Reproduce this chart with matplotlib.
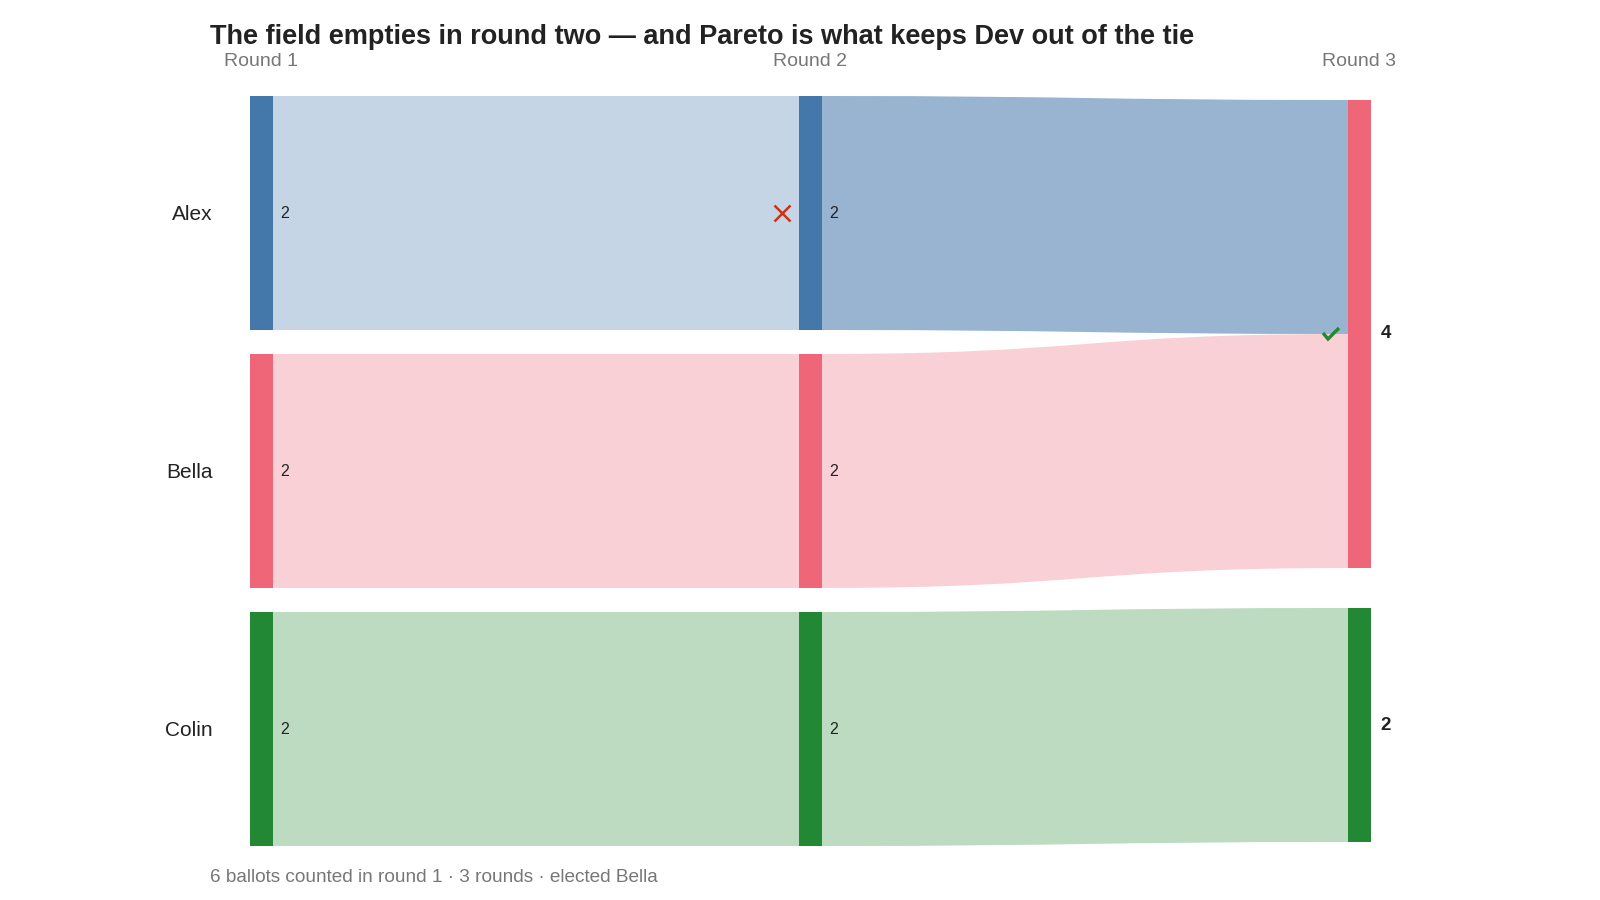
import matplotlib.pyplot as plt
from matplotlib.path import Path
from matplotlib.patches import PathPatch, Rectangle

plt.rcParams['font.family'] = ['Liberation Sans', 'DejaVu Sans']

title = "The field empties in round two \u2014 and Pareto is what keeps Dev out of the tie"
footer = "6 ballots counted in round 1 \u00b7 3 rounds \u00b7 elected Bella"
rounds = ['Round 1', 'Round 2', 'Round 3']
candidates = ['Alex', 'Bella', 'Colin']
colors = ['#4477AA', '#EE6677', '#228833']
# ballots held by each candidate in each round
votes = [
    [2, 2, 2],
    [2, 2, 2],
    [0, 4, 2],
]
# ballots moving between consecutive rounds: (from round, source, target, ballots)
flows = [
    (0, 'Alex', 'Alex', 2),
    (0, 'Bella', 'Bella', 2),
    (0, 'Colin', 'Colin', 2),
    (1, 'Alex', 'Bella', 2),
    (1, 'Bella', 'Bella', 2),
    (1, 'Colin', 'Colin', 2),
]
eliminated = (1, 'Alex')
elected = (2, 'Bella')

# layout (pixels)
col_x = [250, 799, 1348]
node_w = 22.5
unit = 117
center_y = 471
gaps = [24, 24, 40]

fig = plt.figure(figsize=(16, 9), dpi=100)
ax = fig.add_axes([0, 0, 1, 1])
ax.set_xlim(0, 1600)
ax.set_ylim(900, 0)
ax.axis('off')

# node positions
nodes = {}
for r, counts in enumerate(votes):
    live = [(c, v) for c, v in zip(candidates, counts) if v > 0]
    total = sum(v for _, v in live) * unit + gaps[r] * (len(live) - 1)
    y = center_y - total / 2
    for c, v in live:
        nodes[(r, c)] = [y, y + v * unit]
        y += v * unit + gaps[r]

# links
out_off = {k: v[0] for k, v in nodes.items()}
in_off = {k: v[0] for k, v in nodes.items()}
for r, src, dst, n in flows:
    h = n * unit
    x0 = col_x[r] + node_w
    x1 = col_x[r + 1]
    y0 = out_off[(r, src)]
    y1 = in_off[(r + 1, dst)]
    out_off[(r, src)] += h
    in_off[(r + 1, dst)] += h
    xm = (x0 + x1) / 2
    verts = [(x0, y0), (xm, y0), (xm, y1), (x1, y1),
             (x1, y1 + h), (xm, y1 + h), (xm, y0 + h), (x0, y0 + h), (x0, y0)]
    codes = [Path.MOVETO, Path.CURVE4, Path.CURVE4, Path.CURVE4,
             Path.LINETO, Path.CURVE4, Path.CURVE4, Path.CURVE4, Path.CLOSEPOLY]
    alpha = 0.55 if src != dst else 0.3
    ax.add_patch(PathPatch(Path(verts, codes), facecolor=colors[candidates.index(src)],
                           edgecolor='none', alpha=alpha, zorder=1))

# nodes and labels
for (r, c), (top, bot) in nodes.items():
    col = colors[candidates.index(c)]
    ax.add_patch(Rectangle((col_x[r], top), node_w, bot - top, facecolor=col,
                           edgecolor='none', zorder=2))
    mid = (top + bot) / 2
    v = votes[r][candidates.index(c)]
    if r == len(rounds) - 1:
        ax.text(col_x[r] + node_w + 10, mid, str(v), ha='left', va='center',
                fontsize=13.5, fontweight='bold', color='#222222')
    else:
        ax.text(col_x[r] + node_w + 8, mid, str(v), ha='left', va='center',
                fontsize=11.5, color='#222222')
    if r == 0:
        ax.text(212.5, mid + 1, c, ha='right', va='center', fontsize=15, color='#222222')

for r, name in enumerate(rounds):
    ax.text(col_x[r] + node_w / 2, 61.5, name, ha='center', va='center',
            fontsize=14, color='#777777')

# elimination and election markers
top, bot = nodes[eliminated]
ax.plot(col_x[eliminated[0]] - 17, (top + bot) / 2, marker='x', color='#CC3311',
        markersize=11, mew=1.8, zorder=3)
top, bot = nodes[elected]
cx, cy = col_x[elected[0]] - 17, (top + bot) / 2
ax.plot([cx - 8, cx - 3, cx + 8], [cy - 1, cy + 5, cy - 6], color='#228833',
        lw=2.4, solid_capstyle='butt', solid_joinstyle='miter', zorder=3)

ax.text(210, 37, title, ha='left', va='center', fontsize=19.5, fontweight='bold',
        color='#222222')
ax.text(210, 878, footer, ha='left', va='center', fontsize=13.7, color='#777777')

fig.savefig('out.png', dpi=100)
